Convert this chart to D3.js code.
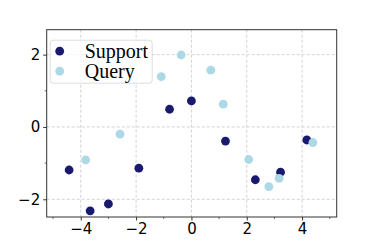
<!DOCTYPE html>
<html>
<head>
<meta charset="utf-8">
<script src="https://cdn.jsdelivr.net/npm/d3@7"></script>
<style>
  body { margin: 0; background: #fff; }
  .tick text { font-family: "DejaVu Sans", sans-serif; font-size: 15px; fill: #000; }
</style>
</head>
<body>
<div id="chart"></div>
<script>
// values
var supportX = [-4.42, -3.66, -3.00, -1.90, -0.79, 0.00, 1.23, 2.31, 3.22, 4.17];
var supportY = [-1.19, -2.32, -2.13, -1.14, 0.49, 0.72, -0.39, -1.46, -1.25, -0.36];
var queryX = [-3.82, -2.58, -1.09, -0.37, 0.70, 1.15, 2.07, 2.80, 3.17, 4.39];
var queryY = [-0.91, -0.20, 1.39, 1.99, 1.57, 0.63, -0.90, -1.65, -1.42, -0.43];
var xTicks = [-4, -2, 0, 2, 4];
var yTicks = [-2, 0, 2];
var xMinor = [-5, -3, -1, 1, 3, 5];
var yMinor = [-1, 1];
var seriesNames = ["Support", "Query"];
var colors = ["#191970", "#add8e6"];

var W = 374, H = 249;
var margin = {left: 46.7, right: 37.3, top: 29.7, bottom: 32};
var width = W - margin.left - margin.right,
    height = H - margin.top - margin.bottom;

var svg = d3.select("#chart").append("svg")
    .attr("width", W)
    .attr("height", H);

var chart = svg.append("g")
    .attr("transform", "translate(" + margin.left + "," + margin.top + ")");

var x = d3.scaleLinear().domain([-5.23, 5.25]).range([0, width]),
    y = d3.scaleLinear().domain([-2.49, 2.69]).range([height, 0]);

// grid
chart.append("g").selectAll("line.gx")
    .data(xTicks).enter().append("line")
    .attr("x1", function (d) { return x(d); })
    .attr("x2", function (d) { return x(d); })
    .attr("y1", 0).attr("y2", height)
    .style("stroke", "#c8c8c8").style("stroke-width", 0.8)
    .style("stroke-dasharray", "3,2");
chart.append("g").selectAll("line.gy")
    .data(yTicks).enter().append("line")
    .attr("y1", function (d) { return y(d); })
    .attr("y2", function (d) { return y(d); })
    .attr("x1", 0).attr("x2", width)
    .style("stroke", "#c8c8c8").style("stroke-width", 0.8)
    .style("stroke-dasharray", "3,2");

// axes
var xAxis = d3.axisBottom(x).tickValues(xTicks).tickSize(3.5).tickPadding(3)
        .tickFormat(function (d) { return d < 0 ? "\u2212" + Math.abs(d) : d; }),
    yAxis = d3.axisLeft(y).tickValues(yTicks).tickSize(3.5).tickPadding(3)
        .tickFormat(function (d) { return d < 0 ? "\u2212" + Math.abs(d) : d; });

var gx = chart.append("g").attr("transform", "translate(0," + height + ")").call(xAxis);
var gy = chart.append("g").call(yAxis);
gx.append("g").selectAll("line")
    .data(xMinor).enter().append("line")
    .attr("x1", function (d) { return x(d); }).attr("x2", function (d) { return x(d); })
    .attr("y1", 0).attr("y2", 2).style("stroke", "#000").style("stroke-width", 0.6);
gy.append("g").selectAll("line")
    .data(yMinor).enter().append("line")
    .attr("y1", function (d) { return y(d); }).attr("y2", function (d) { return y(d); })
    .attr("x1", 0).attr("x2", -2).style("stroke", "#000").style("stroke-width", 0.6);
[gx, gy].forEach(function (g) {
    g.select(".domain").remove();
    g.selectAll(".tick line").style("stroke", "#000").style("stroke-width", 0.8);
    g.selectAll(".tick text").attr("font-size", null).attr("font-family", null);
});

// points
var series = [
    d3.zip(supportX, supportY),
    d3.zip(queryX, queryY)
];
series.forEach(function (pts, i) {
    chart.append("g").selectAll("circle")
        .data(pts).enter().append("circle")
        .attr("cx", function (d) { return x(d[0]); })
        .attr("cy", function (d) { return y(d[1]); })
        .attr("r", 4.4)
        .style("fill", colors[i]);
});

// frame
chart.append("rect")
    .attr("width", width).attr("height", height)
    .style("fill", "none").style("stroke", "#333").style("stroke-width", 1);

// legend
var legend = chart.append("g").attr("transform", "translate(3.5,10.5)");
legend.append("rect")
    .attr("width", 102).attr("height", 43).attr("rx", 3)
    .style("fill", "#fff").style("fill-opacity", 0.8)
    .style("stroke", "#d6d6d6").style("stroke-width", 0.8);
seriesNames.forEach(function (name, i) {
    legend.append("circle")
        .attr("cx", 9.5).attr("cy", 11 + i * 20)
        .attr("r", 4.4).style("fill", colors[i]);
    legend.append("text")
        .attr("x", 34.5).attr("y", 17.5 + i * 20)
        .style("font-family", "'Liberation Serif', serif")
        .style("font-size", "20px")
        .text(name);
});
</script>
</body>
</html>
